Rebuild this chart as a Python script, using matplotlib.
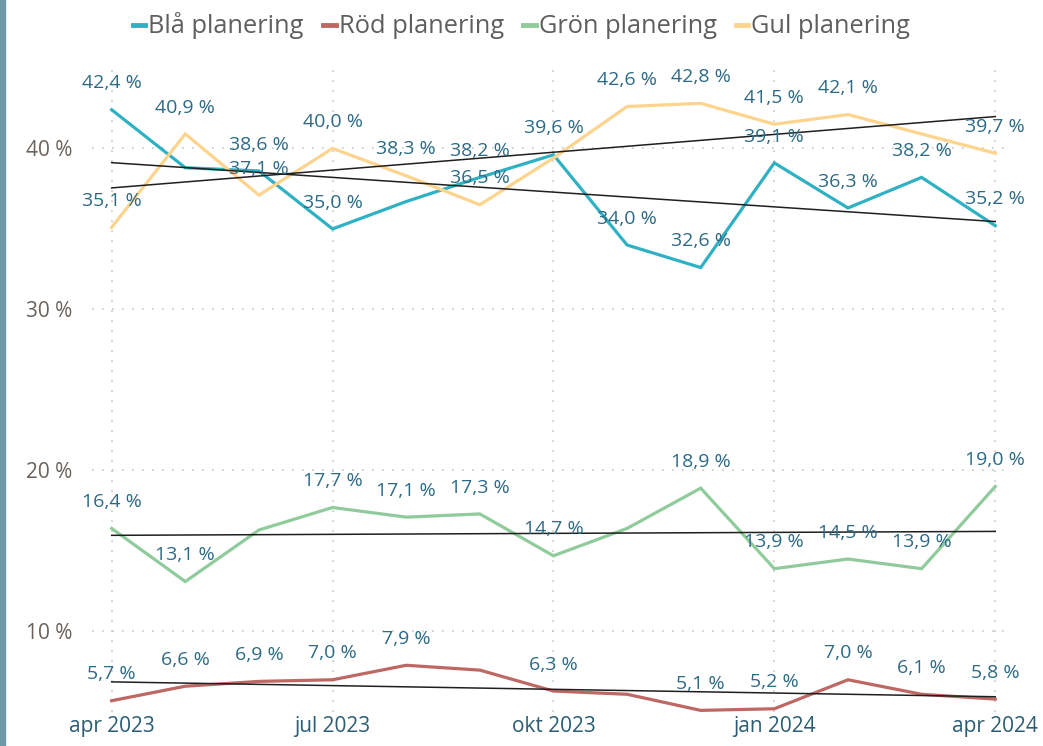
import numpy as np
import matplotlib
matplotlib.use("Agg")
import matplotlib.pyplot as plt
from matplotlib.patches import Rectangle

plt.rcParams["font.family"] = ["Open Sans", "DejaVu Sans"]

# --------- data -----------
months = ["apr 2023", "maj 2023", "jun 2023", "jul 2023", "aug 2023", "sep 2023",
          "okt 2023", "nov 2023", "dec 2023", "jan 2024", "feb 2024", "mar 2024", "apr 2024"]
tick_months = ["apr 2023", "jul 2023", "okt 2023", "jan 2024", "apr 2024"]

bla = [42.4, 38.8, 38.6, 35.0, 36.7, 38.2, 39.6, 34.0, 32.6, 39.1, 36.3, 38.2, 35.2]
rod = [5.7, 6.6, 6.9, 7.0, 7.9, 7.6, 6.3, 6.1, 5.1, 5.2, 7.0, 6.1, 5.8]
gron = [16.4, 13.1, 16.3, 17.7, 17.1, 17.3, 14.7, 16.4, 18.9, 13.9, 14.5, 13.9, 19.0]
gul = [35.1, 40.9, 37.1, 40.0, 38.3, 36.5, 39.4, 42.6, 42.8, 41.5, 42.1, 40.9, 39.7]

series_names = ["Blå planering", "Röd planering", "Grön planering", "Gul planering"]

# which points Power BI left without a label (overlap hiding)
hidden = {
    "Blå planering": [1, 4],
    "Röd planering": [5, 7],
    "Grön planering": [2, 7],
    "Gul planering": [6, 11],
}

colors = ["#2FB1C4", "#BE6863", "#8FCB9B", "#FDD48D"]
label_color = "#2C6A86"

fig = plt.figure(figsize=(10.43, 7.46), dpi=100)
ax = fig.add_axes([0.088, 0.0456, 0.8775, 0.8634])

x = np.arange(len(months))
all_series = [bla, rod, gron, gul]

for name, vals, col in zip(series_names, all_series, colors):
    ax.plot(x, vals, color=col, lw=2.3, label=name, zorder=3, solid_joinstyle="miter")

# trend lines
for vals in all_series:
    k, m = np.polyfit(x, vals, 1)
    ax.plot(x, k * x + m, color="#1f1f1f", lw=1.1, zorder=4)

# data labels
for name, vals in zip(series_names, all_series):
    for i, v in enumerate(vals):
        if i in hidden[name]:
            continue
        ax.annotate(f"{v:.1f} %".replace(".", ","), (x[i], v), xytext=(0, 19),
                    textcoords="offset points", ha="center", va="center",
                    fontsize=14, color=label_color, zorder=5)

ax.set_xlim(-0.27, 12.16)
ax.set_ylim(5, 45)
ax.set_yticks([10, 20, 30, 40])
ax.set_yticklabels(["10 %", "20 %", "30 %", "40 %"])
tick_pos = [months.index(m) for m in tick_months]
ax.set_xticks(tick_pos)
ax.set_xticklabels(tick_months)

ax.grid(True, color="#c8c8c8", linestyle=(0, (1, 5)), lw=1.2)
for s in ax.spines.values():
    s.set_visible(False)
ax.tick_params(axis="both", length=0, labelsize=15)
ax.tick_params(axis="y", colors="#6a625c", pad=14)
ax.tick_params(axis="x", colors="#2B5D73", pad=3)

fig.legend(loc="upper center", bbox_to_anchor=(0.5, 1.014), ncol=4, frameon=False,
           fontsize=18.3, handlelength=0.5, handletextpad=0.12, columnspacing=0.75,
           labelcolor="#605E5C")
leg = fig.legends[0]
for h in leg.legend_handles:
    h.set_linewidth(3.5)

# window edge stripe on the left
fig.patches.append(Rectangle((0, 0), 5 / 1043, 1, transform=fig.transFigure,
                             color="#6F98A6", zorder=0))

fig.savefig("out.png", dpi=100)
